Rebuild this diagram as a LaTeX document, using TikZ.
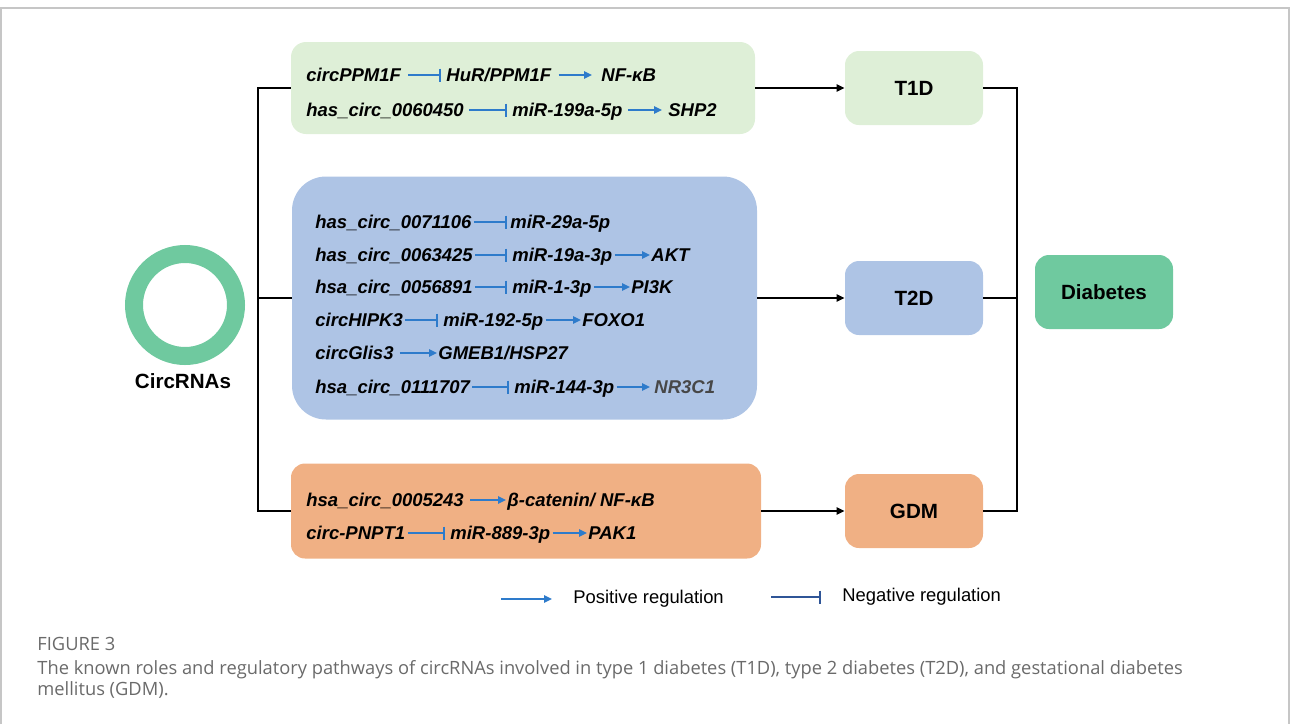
\documentclass[tikz,border=0pt]{standalone}
\usepackage{fontspec}
\setmainfont{Liberation Sans}
\newfontfamily\capfont{Open Sans}
\usetikzlibrary{arrows.meta}
\definecolor{t1green}{HTML}{DEEFD7}
\definecolor{t2blue}{HTML}{AEC4E5}
\definecolor{gdmorange}{HTML}{F0B084}
\definecolor{diagreen}{HTML}{6FC99F}
\definecolor{regblue}{HTML}{2E7BCB}
\definecolor{negblue}{HTML}{2F5597}
\definecolor{framegray}{HTML}{C6C6C6}
\definecolor{capgray}{HTML}{6A6A6A}
\tikzset{
  gene/.style={anchor=west, inner sep=0pt, text height=6.8pt, text depth=0pt,
               font=\fontsize{9.25}{11}\selectfont\bfseries\itshape},
  act/.style={regblue, line width=1pt, -{Triangle[length=4pt,width=3.6pt]},
              shorten <=1pt, shorten >=0.5pt},
  inh/.style={regblue, line width=1pt, -{Bar[width=6.5pt]},
              shorten <=1pt, shorten >=2.5pt},
  dis/.style={rounded corners=7pt, minimum width=69pt, minimum height=37pt,
              inner sep=0pt, font=\fontsize{10.3}{12}\selectfont\bfseries},
  link/.style={line width=1pt, -{Triangle[length=4pt,width=3.6pt]}},
  legend/.style={anchor=west, inner sep=0pt, text height=6.6pt, text depth=0pt,
                 font=\fontsize{9.2}{11}\selectfont},
  caption/.style={anchor=base west, inner sep=0pt, text=capgray,
                  font=\capfont\fontsize{9.15}{10}\selectfont},
}
\begin{document}
\begin{tikzpicture}[x=0.5pt, y=-0.5pt]
  \useasboundingbox (0,0) rectangle (1290,724);
  \draw[framegray, line width=1pt] (1,724) -- (1,8) -- (1289,8) -- (1289,724);

  % pathway boxes
  \node (t1path) [fill=t1green, rounded corners=7.5pt, minimum width=232pt,
                  minimum height=46pt, inner sep=0pt] at (523,88) {};
  \node (t2path) [fill=t2blue, rounded corners=17pt, minimum width=232.5pt,
                  minimum height=121.5pt, inner sep=0pt] at (524.5,298) {};
  \node (gdmpath) [fill=gdmorange, rounded corners=7pt, minimum width=235pt,
                   minimum height=47.5pt, inner sep=0pt] at (526,511) {};

  % disease boxes
  \node (t1d) [dis, fill=t1green] at (914,88) {T1D};
  \node (t2d) [dis, fill=t2blue] at (914,298) {T2D};
  \node (gdm) [dis, fill=gdmorange] at (914,511) {GDM};
  \node (diab) [dis, fill=diagreen] at (1104,292) {Diabetes};

  % circRNA ring
  \node (ring) [circle, draw=diagreen, line width=9pt, minimum size=51pt,
                inner sep=0pt] at (185,305) {};
  \node (circlabel) [font=\fontsize{10.3}{12}\selectfont\bfseries] at (183,381) {CircRNAs};

  % connectors
  \coordinate (ltop) at (258,88);
  \coordinate (lbot) at (258,511);
  \coordinate (rtop) at (1017,88);
  \coordinate (rbot) at (1017,511);
  \draw[line width=1pt] (t1path.west) -- (ltop) -- (lbot) -- (gdmpath.west);
  \draw[line width=1pt] (t2path.west) -- (t2path.west -| ltop);
  \draw[link] (t1path.east) -- (t1d.west);
  \draw[link] (t2path.east) -- (t2d.west);
  \draw[link] (gdmpath.east) -- (gdm.west);
  \draw[line width=1pt] (t1d.east) -- (rtop) -- (rbot) -- (gdm.east);
  \draw[line width=1pt] (t2d.east) -- (t2d.east -| rtop);

  % T1D pathways
  \node (a1) [gene] at (306,75) {circPPM1F};
  \node (a2) [gene] at (446,75) {HuR/PPM1F};
  \node (a3) [gene] at (601,75) {NF-κB};
  \draw[inh, shorten <=3.5pt] (a1) -- (a2);
  \draw[act, shorten <=3.5pt, shorten >=4.5pt] (a2) -- (a3);
  \node (b1) [gene] at (306,110) {has\_circ\_0060450};
  \node (b2) [gene] at (512,110) {miR-199a-5p};
  \node (b3) [gene] at (668,110) {SHP2};
  \draw[inh, shorten <=2.5pt] (b1) -- (b2);
  \draw[act, shorten <=2.5pt, shorten >=3pt] (b2) -- (b3);

  % T2D pathways
  \node (c1) [gene] at (315,222) {has\_circ\_0071106};
  \node (c2) [gene] at (510,222) {miR-29a-5p};
  \draw[inh, shorten >=1.5pt] (c1) -- (c2);
  \node (d1) [gene] at (315,255) {has\_circ\_0063425};
  \node (d2) [gene] at (512,255) {miR-19a-3p};
  \node (d3) [gene] at (651,255) {AKT};
  \draw[inh] (d1) -- (d2);
  \draw[act] (d2) -- (d3);
  \node (e1) [gene] at (315,287) {hsa\_circ\_0056891};
  \node (e2) [gene] at (512,287) {miR-1-3p};
  \node (e3) [gene] at (631,287) {PI3K};
  \draw[inh] (e1) -- (e2);
  \draw[act] (e2) -- (e3);
  \node (f1) [gene] at (315,320) {circHIPK3};
  \node (f2) [gene] at (443,320) {miR-192-5p};
  \node (f3) [gene] at (582,320) {FOXO1};
  \draw[inh] (f1) -- (f2);
  \draw[act] (f2) -- (f3);
  \node (g1) [gene] at (315,353) {circGlis3};
  \node (g2) [gene] at (438,353) {GMEB1/HSP27};
  \draw[act, shorten <=3pt] (g1) -- (g2);
  \node (h1) [gene] at (315,387) {hsa\_circ\_0111707};
  \node (h2) [gene] at (514,387) {miR-144-3p};
  \node (h3) [gene, text=black!72] at (654,387) {NR3C1};
  \draw[inh] (h1) -- (h2);
  \draw[act, shorten >=2pt] (h2) -- (h3);

  % GDM pathways
  \node (k1) [gene] at (306,500) {hsa\_circ\_0005243};
  \node (k2) [gene] at (507,500) {β-catenin/ NF-κB};
  \draw[act, shorten <=3pt] (k1) -- (k2);
  \node (m1) [gene] at (306,533) {circ-PNPT1};
  \node (m2) [gene] at (450,533) {miR-889-3p};
  \node (m3) [gene] at (588,533) {PAK1};
  \draw[inh] (m1) -- (m2);
  \draw[act] (m2) -- (m3);

  % legend
  \coordinate (posstart) at (501,599);
  \coordinate (negstart) at (771,597);
  \node (poslabel) [legend] at (573,597) {Positive regulation};
  \node (neglabel) [legend] at (842,595) {Negative regulation};
  \draw[regblue, line width=1pt, -{Triangle[length=4pt,width=3.6pt]}]
    (posstart) -- (poslabel.west |- posstart) [shorten >=10.5pt];
  \draw[negblue, line width=1pt, -{Bar[width=6.5pt]}]
    (negstart) -- (neglabel.west |- negstart) [shorten >=10.5pt];

  % caption
  \node (figlabel) [caption] at (37,650) {FIGURE 3};
  \node (captionA) [caption] at (37,674) {The known roles and regulatory pathways of circRNAs involved in type 1 diabetes (T1D), type 2 diabetes (T2D), and gestational diabetes};
  \node (captionB) [caption] at (37,695) {mellitus (GDM).};
\end{tikzpicture}
\end{document}
